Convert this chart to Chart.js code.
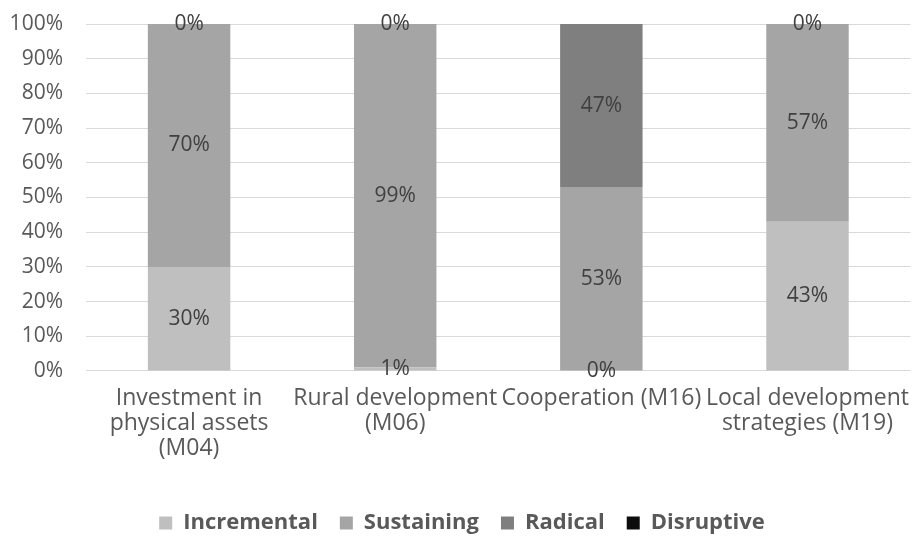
<!DOCTYPE html>
<html>
<head>
<meta charset="utf-8">
<script src="https://cdn.jsdelivr.net/npm/chart.js@4/dist/chart.umd.min.js"></script>
<style>
  html, body { margin: 0; padding: 0; background: #ffffff; }
  #wrap { width: 924px; height: 539px; position: relative; }
</style>
</head>
<body>
<div id="wrap"><canvas id="c"></canvas></div>
<script>
const categories = [
  ["Investment in", "physical assets", "(M04)"],
  ["Rural development", "(M06)"],
  ["Cooperation (M16)"],
  ["Local development", "strategies (M19)"]
];
const incremental = [30, 1, 0, 43];
const sustaining  = [70, 99, 53, 57];
const radical     = [0, 0, 47, 0];
const disruptive  = [0, 0, 0, 0];
const seriesNames = ["Incremental", "Sustaining", "Radical", "Disruptive"];
const yTicks = [0, 10, 20, 30, 40, 50, 60, 70, 80, 90, 100];

const FONT = "'Open Sans', sans-serif";

const dataLabels = {
  id: 'dataLabels',
  afterDatasetsDraw(chart) {
    const ctx = chart.ctx;
    ctx.save();
    ctx.font = "21px " + FONT;
    ctx.fillStyle = '#404040';
    ctx.textAlign = 'center';
    ctx.textBaseline = 'middle';
    chart.data.datasets.forEach((ds, i) => {
      if (i > 2) return;
      const meta = chart.getDatasetMeta(i);
      meta.data.forEach((el, j) => {
        const p = el.getCenterPoint();
        ctx.fillText(ds.data[j] + '%', p.x, p.y);
      });
    });
    ctx.restore();
  }
};

new Chart(document.getElementById('c'), {
  type: 'bar',
  data: {
    labels: categories,
    datasets: [
      { label: seriesNames[0], data: incremental, backgroundColor: '#bfbfbf' },
      { label: seriesNames[1], data: sustaining,  backgroundColor: '#a5a5a5' },
      { label: seriesNames[2], data: radical,     backgroundColor: '#7f7f7f' },
      { label: seriesNames[3], data: disruptive,  backgroundColor: '#0d0d0d' }
    ]
  },
  options: {
    responsive: true,
    maintainAspectRatio: false,
    animation: false,
    layout: { padding: { left: 0, right: 0, top: 24, bottom: -5 } },
    datasets: { bar: { barPercentage: 0.4, categoryPercentage: 1.0 } },
    scales: {
      x: {
        stacked: true,
        grid: { display: false, drawTicks: false },
        border: { display: false },
        afterFit(axis) { axis.height += 14; },
        ticks: {
          color: '#595959',
          font: { family: FONT, size: 23, lineHeight: 1.087 },
          maxRotation: 0, minRotation: 0, autoSkip: false, padding: 15
        }
      },
      y: {
        stacked: true,
        min: 0, max: 100,
        afterBuildTicks(axis) { axis.ticks = yTicks.map(v => ({ value: v })); },
        afterFit(axis) { axis.width = 86; axis.paddingTop = 0; },
        grid: { color: '#d9d9d9', lineWidth: 1, drawTicks: false },
        border: { display: false },
        ticks: {
          color: '#595959',
          font: { family: FONT, size: 21 },
          padding: 23,
          callback: v => v + '%'
        }
      }
    },
    plugins: {
      legend: {
        position: 'bottom',
        labels: {
          color: '#595959',
          font: { family: FONT, size: 22, weight: 'bold' },
          boxWidth: 13, boxHeight: 13, padding: 22
        }
      },
      tooltip: { enabled: false }
    }
  },
  plugins: [dataLabels]
});
</script>
</body>
</html>
